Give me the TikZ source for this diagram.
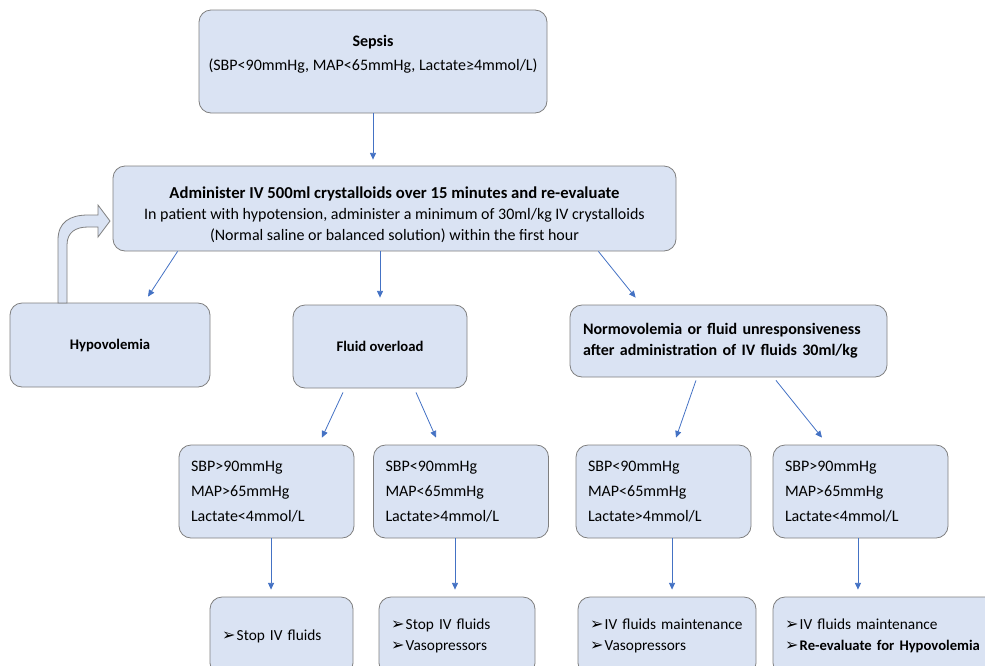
\documentclass[tikz,border=0pt]{standalone}
\usepackage{fontspec}
\setmainfont{Carlito}
\newfontfamily\symfont{DejaVu Sans}
\usetikzlibrary{arrows.meta}

\definecolor{boxfill}{HTML}{DAE3F3}
\definecolor{boxline}{HTML}{7F7F7F}
\definecolor{arrowblue}{HTML}{4472C4}

\newcommand{\bul}{{\symfont\fontsize{12}{12}\selectfont ➢}\kern1pt}

\tikzset{
  box/.style 2 args={draw=boxline, fill=boxfill, line width=0.6pt, rounded corners=9pt,
    minimum width=#1*0.75pt, minimum height=#2*0.75pt, inner sep=0pt},
  cond/.style={box={175}{93}, align=left, text width=151*0.75pt,
    font=\fontsize{12}{18.75}\selectfont},
  result/.style={box={#1}{78}, align=left, text width=#1*0.75pt-24*0.75pt,
    font=\fontsize{11.5}{16}\selectfont},
  arr/.style={draw=arrowblue, line width=0.6pt, -{Triangle[length=5pt,width=4.5pt]}},
}

\begin{document}
\begin{tikzpicture}[x=0.75pt, y=-0.75pt]
      \useasboundingbox (0,0) rectangle (985,665);
      \clip (0,0) rectangle (985,665);

      % Top of the chart
      \node[box={348}{103}, align=center, font=\fontsize{12}{18}\selectfont] (sepsis) at (373,61.5)
        {\textbf{Sepsis}\\(SBP<90mmHg, MAP<65mmHg, Lactate≥4mmol/L)\rule[-13pt]{0pt}{13pt}};
      \node[box={563}{85}, align=center, font=\fontsize{12}{15.75}\selectfont] (admin) at (394.5,208.5)
        {\rule{0pt}{18pt}{\fontsize{12.5}{15.75}\selectfont\bfseries Administer IV 500ml crystalloids over 15 minutes and re-evaluate}\\
         In patient with hypotension, administer a minimum of 30ml/kg IV crystalloids\\
         (Normal saline or balanced solution) within the first hour};

      % Three outcomes
      \node[box={200}{84}, font=\bfseries\fontsize{11}{14}\selectfont] (hypo) at (110,345) {Hypovolemia};
      \node[box={174}{83}, font=\bfseries\fontsize{11}{14}\selectfont] (overload) at (380,346.5) {Fluid overload};
      \node[box={317}{72}, align=left, text width=291*0.75pt,
            font=\bfseries\fontsize{12}{15.75}\selectfont] (normo) at (728.5,341)
        {Normovolemia or fluid unresponsiveness\\after administration of IV fluids 30ml/kg};

      % Back to re-evaluation
      \draw[draw=boxline, fill=boxfill, line width=0.6pt]
        (58,303) -- (58,240) .. controls (58,222) and (70,215) .. (88,215) -- (98,215)
        -- (98,205) -- (110,221) -- (98,237) -- (98,227) -- (88,227)
        .. controls (76,227) and (67,232) .. (67,245) -- (67,303) -- cycle;

      % Conditions
      \foreach \n/\x/\txt in {c1/266.5/{SBP>90mmHg\\MAP>65mmHg\\Lactate<4mmol/L},
                              c2/461/{SBP<90mmHg\\MAP<65mmHg\\Lactate>4mmol/L},
                              c3/663.5/{SBP<90mmHg\\MAP<65mmHg\\Lactate>4mmol/L},
                              c4/860.5/{SBP>90mmHg\\MAP>65mmHg\\Lactate<4mmol/L}} {
          \node[cond] (\n) at (\x,491.5) {\txt};
      }

      % Actions
      \node[result=143] (r1) at (281.5,636) {\bul Stop IV fluids};
      \node[result=156] (r2) at (457,636) {\bul Stop IV fluids\\\bul Vasopressors};
      \node[result=178] (r3) at (667,636) {\bul IV fluids maintenance\\\bul Vasopressors};
      \node[result=226] (r4) at (886,636) {\bul IV fluids maintenance\\\bul{\fontsize{11}{16}\selectfont\bfseries Re-evaluate for Hypovolemia}};

      % Arrows
      \draw[arr, shorten >=4.5pt] (sepsis.south) -- (sepsis.south |- admin.north);
      \draw[arr] ([xshift=48.75pt]admin.south west) -- ([xshift=28.5pt, yshift=4.5pt]hypo.north);
      \draw[arr, shorten >=5.25pt] (overload.north |- admin.south) -- (overload.north);
      \draw[arr] ([xshift=-58.5pt]admin.south east) -- ([xshift=49.5pt, yshift=5.25pt]normo.north west);
      \draw[arr] ([xshift=-27.75pt, yshift=-3pt]overload.south) -- ([xshift=41.6pt, yshift=5.25pt]c1.north);
      \draw[arr] ([xshift=27pt, yshift=-3pt]overload.south) -- ([xshift=-18.75pt, yshift=5.25pt]c2.north);
      \draw[arr] ([xshift=-24.4pt, yshift=-2.25pt]normo.south) -- ([xshift=9.4pt, yshift=5.25pt]c3.north);
      \draw[arr] ([xshift=35.6pt, yshift=-2.25pt]normo.south) -- ([xshift=-28.9pt, yshift=5.25pt]c4.north);
      \foreach \c/\r/\dx in {c1/r1/3.4pt, c2/r2/-4.5pt, c3/r3/6.4pt, c4/r4/-1.9pt} {
          \draw[arr, shorten >=5.25pt] ([xshift=\dx]\c.south) -- ([xshift=\dx]\c.south |- \r.north);
      }
\end{tikzpicture}
\end{document}
